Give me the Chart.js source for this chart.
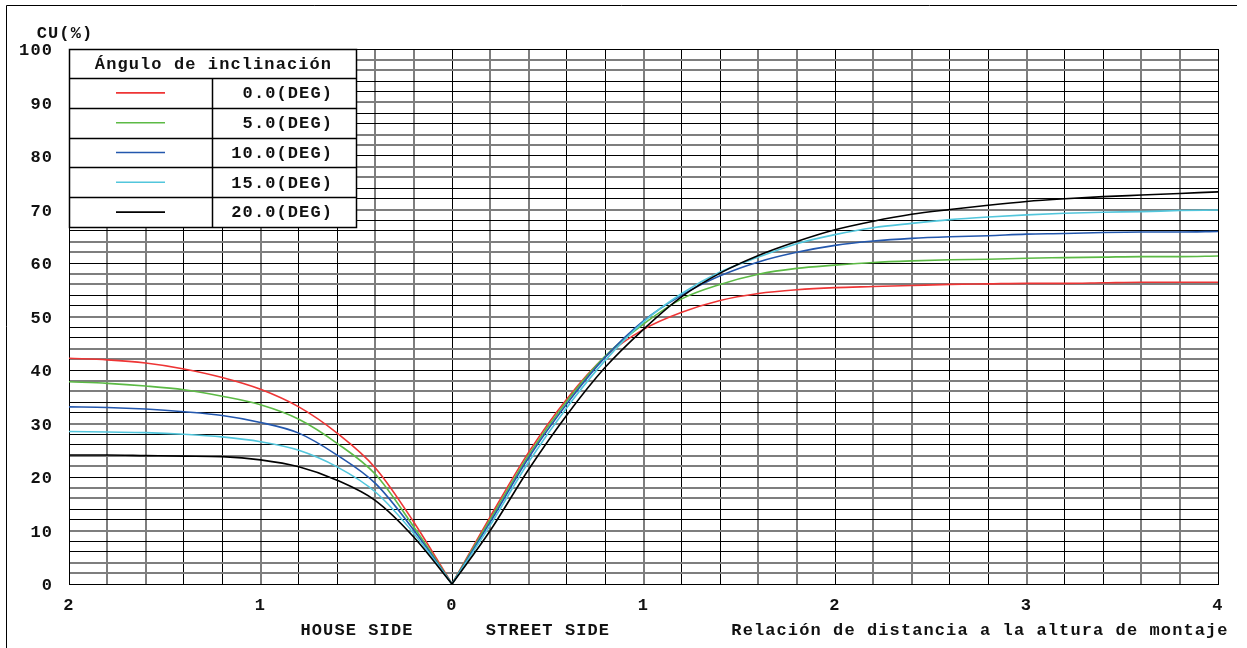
<!DOCTYPE html>
<html><head><meta charset="utf-8">
<script src="https://cdn.jsdelivr.net/npm/chart.js@4.4.1/dist/chart.umd.min.js"></script>
<style>html,body{margin:0;padding:0;background:#fff;overflow:hidden}#wrap{width:1247px;height:648px}</style>
</head><body><div id="wrap"><canvas id="c" width="1247" height="648"></canvas></div>
<script>
// ---- data ----
const legendTitle = 'Ángulo de inclinación';
const angleLabels = ['0.0(DEG)', '5.0(DEG)', '10.0(DEG)', '15.0(DEG)', '20.0(DEG)'];
const lineColors = ['#ee3535', '#5cba45', '#2357ad', '#52c6dc', '#000000'];

const houseDist = [2, 1.8, 1.6, 1.4, 1.2, 1.0, 0.8, 0.6, 0.4, 0.2, 0];
const house0  = [42.2, 41.9, 41.3, 40.2, 38.6, 36.4, 33.1, 28.2, 21.7, 11.6, 0];
const house5  = [37.8, 37.5, 37.0, 36.3, 35.1, 33.5, 30.8, 26.3, 20.5, 10.7, 0];
const house10 = [33.1, 33.0, 32.7, 32.2, 31.5, 30.2, 28.2, 24.1, 18.8, 10.1, 0];
const house15 = [28.5, 28.4, 28.3, 28.0, 27.5, 26.6, 25.0, 21.9, 17.2, 9.5, 0];
const house20 = [24.1, 24.1, 24.0, 23.9, 23.8, 23.2, 21.9, 19.4, 15.6, 8.8, 0];

const streetDist = [0, 0.2, 0.4, 0.6, 0.8, 1.0, 1.2, 1.4, 1.6, 1.8, 2.0, 2.2, 2.4, 2.6, 2.8, 3.0, 3.2, 3.4, 3.6, 3.8, 4.0];
const street0  = [0, 12.6, 24.6, 34.6, 42.5, 47.6, 50.8, 53.0, 54.3, 55.0, 55.4, 55.6, 55.8, 56.0, 56.1, 56.2, 56.2, 56.3, 56.4, 56.4, 56.4];
const street5  = [0, 12.1, 24.1, 34.2, 42.6, 48.6, 53.3, 56.0, 57.9, 59.0, 59.6, 60.1, 60.4, 60.6, 60.7, 60.9, 61.0, 61.1, 61.2, 61.2, 61.3];
const street10 = [0, 11.6, 23.6, 33.7, 42.4, 49.2, 54.0, 57.6, 60.2, 62.0, 63.3, 64.1, 64.6, 64.9, 65.1, 65.4, 65.5, 65.7, 65.8, 65.8, 65.9];
const street15 = [0, 11.0, 22.8, 33.0, 41.8, 49.0, 54.3, 58.3, 61.1, 63.6, 65.3, 66.6, 67.4, 68.1, 68.6, 69.0, 69.3, 69.5, 69.6, 69.8, 69.9];
const street20 = [0, 10.0, 21.4, 31.6, 40.5, 47.6, 53.7, 58.1, 61.4, 64.0, 66.2, 67.8, 69.1, 70.0, 70.8, 71.5, 72.0, 72.4, 72.7, 73.0, 73.3];

const xTickValues = [-2, -1, 0, 1, 2, 3, 4];
const xTickLabels = ['2', '1', '0', '1', '2', '3', '4'];
const yTickValues = [0, 10, 20, 30, 40, 50, 60, 70, 80, 90, 100];
const yTickLabels = ['0', '10', '20', '30', '40', '50', '60', '70', '80', '90', '100'];
const yAxisTitle = 'CU(%)';
const houseText = 'HOUSE SIDE';
const streetText = 'STREET SIDE';
const xAxisTitle = 'Relación de distancia a la altura de montaje';

const houseSeries = [house0, house5, house10, house15, house20];
const streetSeries = [street0, street5, street10, street15, street20];

// ---- chart ----
const FONT = "'Liberation Mono', 'Courier New', monospace";
const FSIZE = 17;
const SPACING = '1.1px';
Chart.defaults.font.family = FONT;
Chart.defaults.font.size = FSIZE;
Chart.defaults.font.weight = 'bold';
Chart.defaults.color = '#111';

const datasets = [];
angleLabels.forEach((lab, i) => {
  const common = {
    label: lab, borderColor: lineColors[i], backgroundColor: lineColors[i],
    borderWidth: 1.6, pointRadius: 0, pointHoverRadius: 0, fill: false,
    cubicInterpolationMode: 'monotone', order: angleLabels.length - i
  };
  datasets.push(Object.assign({}, common, {
    data: houseDist.map((d, k) => ({ x: -d, y: houseSeries[i][k] }))
  }));
  datasets.push(Object.assign({}, common, {
    data: streetDist.map((d, k) => ({ x: d, y: streetSeries[i][k] }))
  }));
});

function gridIsGray(ctx) {
  const s = ctx.scale, t = ctx.tick;
  if (!t || !s) return false;
  if (ctx.index === 0 || ctx.index === s.ticks.length - 1) return false;
  const p = s.getPixelForValue(t.value);
  const f = p - Math.floor(p);
  return f > 0.25 && f < 0.75;
}
const gridOpts = {
  display: true, drawTicks: false, tickLength: 0,
  color: ctx => gridIsGray(ctx) ? '#7e7e7e' : '#000',
  lineWidth: ctx => gridIsGray(ctx) ? 2 : 1
};

const deco = {
  id: 'deco',
  beforeDraw(chart) {
    const c = chart.ctx;
    c.letterSpacing = SPACING;
    c.save();
    c.fillStyle = '#fff';
    c.fillRect(0, 0, chart.width, chart.height);
    c.restore();
  },
  afterDraw(chart) {
    const c = chart.ctx, a = chart.chartArea;
    c.save();
    c.letterSpacing = SPACING;
    // outer frame
    c.strokeStyle = '#000'; c.lineWidth = 1;
    c.beginPath(); c.moveTo(6.5, chart.height); c.lineTo(6.5, 5.5); c.lineTo(1237, 5.5); c.stroke();

    // legend table
    const L = a.left, T = a.top, W = 287, headH = 29, rowH = 29.8;
    const divX = L + 143;
    const H = headH + rowH * angleLabels.length;
    c.fillStyle = '#fff';
    c.fillRect(L, T, W, H);
    c.strokeStyle = '#000'; c.lineWidth = 1.5;
    c.strokeRect(L + 0.5, T + 0.5, W, H);
    c.beginPath();
    for (let i = 0; i < angleLabels.length; i++) {
      const y = Math.round(T + headH + rowH * i) + 0.5;
      c.moveTo(L, y); c.lineTo(L + W, y);
    }
    c.moveTo(divX + 0.5, T + headH); c.lineTo(divX + 0.5, T + H);
    c.stroke();
    c.font = 'bold ' + FSIZE + 'px ' + FONT;
    c.fillStyle = '#111';
    c.textBaseline = 'middle';
    c.textAlign = 'center';
    c.fillText(legendTitle, L + W / 2 + 1, T + headH / 2 + 1);
    angleLabels.forEach((lab, i) => {
      const cy = T + headH + rowH * i + rowH / 2;
      const ds = chart.data.datasets[i * 2];
      c.strokeStyle = ds.borderColor; c.lineWidth = 1.6;
      c.beginPath(); c.moveTo(L + 47, cy); c.lineTo(L + 96, cy); c.stroke();
      c.textAlign = 'right';
      c.fillStyle = '#111';
      c.fillText(lab, L + 264, cy + 1);
    });

    // texts
    c.textAlign = 'center';
    c.fillText(yAxisTitle, 65, 34);
    c.fillText(houseText, 357, 631);
    c.fillText(streetText, 548, 631);
    c.fillText(xAxisTitle, 980, 631);
    c.restore();
  }
};

new Chart(document.getElementById('c'), {
  type: 'line',
  data: { datasets },
  options: {
    responsive: false, animation: false, events: [],
    layout: { padding: { left: 0, right: 29, top: 49, bottom: 0 } },
    plugins: { legend: { display: false }, tooltip: { enabled: false }, title: { display: false } },
    scales: {
      x: {
        type: 'linear', min: -2, max: 4,
        afterFit: s => { s.height = 64; },
        ticks: {
          stepSize: 0.2, autoSkip: false, maxRotation: 0, minRotation: 0, padding: 12,
          color: '#111', font: { size: FSIZE, weight: 'bold' },
          callback: v => {
            const k = xTickValues.findIndex(t => Math.abs(t - v) < 1e-6);
            return k >= 0 ? xTickLabels[k] : '';
          }
        },
        grid: gridOpts,
        border: { display: true, color: '#000', width: 1 }
      },
      y: {
        type: 'linear', min: 0, max: 100,
        afterFit: s => { s.width = 69; },
        ticks: {
          stepSize: 2, autoSkip: false, padding: 16, labelOffset: 2,
          color: '#111', font: { size: FSIZE, weight: 'bold' },
          callback: v => {
            const k = yTickValues.findIndex(t => Math.abs(t - v) < 1e-6);
            return k >= 0 ? yTickLabels[k] : '';
          }
        },
        grid: gridOpts,
        border: { display: true, color: '#000', width: 1 }
      }
    }
  },
  plugins: [deco]
});
</script></body></html>
